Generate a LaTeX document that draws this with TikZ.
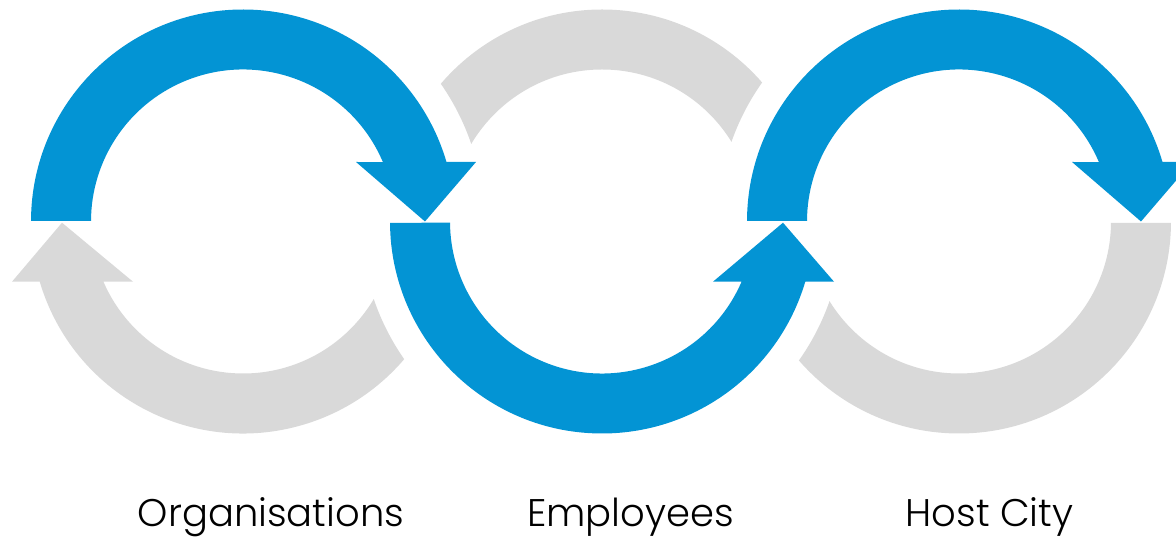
\documentclass[tikz,border=0pt]{standalone}
\usepackage{fontspec}
\setmainfont{Poppins}[UprightFont={* Light}]
\usetikzlibrary{calc}
\definecolor{cblue}{RGB}{3,148,212}
\definecolor{cgray}{RGB}{217,217,217}
\tikzset{
  bluearc/.style={fill=cblue, draw=none},
  grayarc/.style={fill=cgray, draw=none},
  lbl/.style={anchor=base, inner sep=0pt, font=\fontsize{38.5}{42}\selectfont, text=black}
}
\begin{document}
\begin{tikzpicture}[x=1pt,y=1pt]
\useasboundingbox (0,0) rectangle (1176,540);
\clip (0,0) rectangle (1176,540);
\coordinate (A) at (243,318.5);
\coordinate (B) at (602,318.5);
\coordinate (C) at (959,318.5);
% gray arcs (clipped around neighbouring circles)
\begin{scope}[even odd rule]
  \clip (-10,-10) rectangle (1200,560) (B) circle[radius=241pt];
  % left gray, arrow up at left
  \fill[grayarc] ($(A)+(-110,-60.2)$) -- ($(A)+(-181,-1.2)$) -- ($(A)+(-231,-60.2)$)
    -- ($(A)+(196.5:212pt)$) arc[start angle=196.5, end angle=360, radius=212pt]
    -- ($(A)+(0:152pt)$) arc[start angle=360, end angle=203.3, radius=152pt] -- cycle;
  % right gray, flat end at right
  \fill[grayarc] ($(C)+(180:212pt)$) arc[start angle=180, end angle=359.6, radius=212pt]
    -- ($(C)+(359.5:152pt)$) arc[start angle=359.5, end angle=180, radius=152pt] -- cycle;
\end{scope}
\begin{scope}[even odd rule]
  \clip (-10,-10) rectangle (1200,560) (A) circle[radius=241pt] (C) circle[radius=241pt];
  \fill[grayarc] ($(B)+(0:212pt)$) arc[start angle=0, end angle=180, radius=212pt]
    -- ($(B)+(180:152pt)$) arc[start angle=180, end angle=0, radius=152pt] -- cycle;
\end{scope}
% blue arcs
\fill[bluearc] ($(A)+(179.8:212pt)$) arc[start angle=179.8, end angle=16.3, radius=212pt]
  -- ($(A)+(233,59.5)$) -- ($(A)+(182,0)$) -- ($(A)+(113,59.5)$)
  -- ($(A)+(23:152pt)$) arc[start angle=23, end angle=179.8, radius=152pt] -- cycle;
\fill[bluearc] ($(B)+(180.4:212pt)$) arc[start angle=180.4, end angle=343.5, radius=212pt]
  -- ($(B)+(232,-60.2)$) -- ($(B)+(181,-1.2)$) -- ($(B)+(111,-60.2)$)
  -- ($(B)+(336.7:152pt)$) arc[start angle=336.7, end angle=180.4, radius=152pt] -- cycle;
\fill[bluearc] ($(C)+(179.8:212pt)$) arc[start angle=179.8, end angle=16.3, radius=212pt]
  -- ($(C)+(233,59.5)$) -- ($(C)+(182,0)$) -- ($(C)+(113,59.5)$)
  -- ($(C)+(23:152pt)$) arc[start angle=23, end angle=179.8, radius=152pt] -- cycle;
% labels
\node[lbl] (org) at (271,13) {Organisations};
\node[lbl] (emp) at (630.5,13) {Employees};
\node[lbl] (hc) at (989.5,13) {Host City};
\end{tikzpicture}
\end{document}
